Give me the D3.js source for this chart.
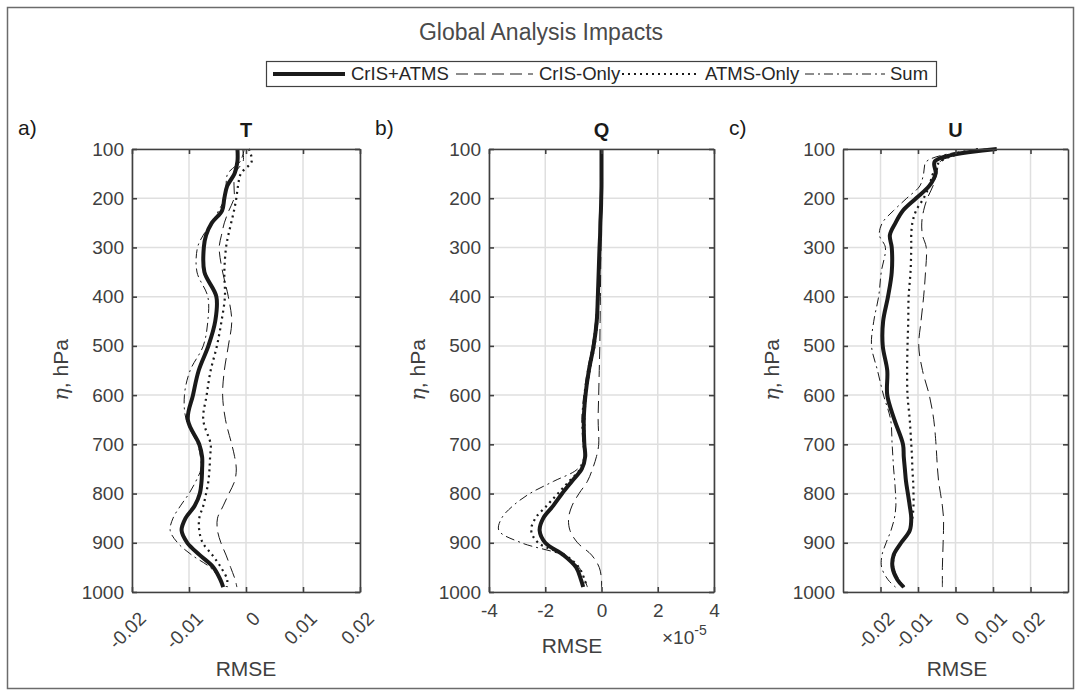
<!DOCTYPE html>
<html>
<head>
<meta charset="utf-8">
<script src="https://cdn.jsdelivr.net/npm/d3@7"></script>
<style>
  body { margin: 0; background: #fff; }
  svg { display: block; font-family: "Liberation Sans", Arial, Helvetica, sans-serif; }
</style>
</head>
<body>
<svg id="fig" width="1081" height="693"></svg>
<script>
// pressure levels (hPa) shared by every profile
var levels = [100, 125, 150, 175, 200, 225, 250, 275, 300, 350, 400, 450, 500, 550, 600, 650,
              700, 725, 750, 775, 800, 825, 850, 875, 900, 925, 950, 975, 990];

var seriesNames = ["CrIS+ATMS", "CrIS-Only", "ATMS-Only", "Sum"];

// a) T
var tCombined = [-0.0015, -0.0015, -0.0020, -0.0033, -0.0038, -0.0042, -0.0060, -0.0070, -0.0074, -0.0073, -0.0052, -0.0054, -0.0066, -0.0083, -0.0093, -0.0102,
                 -0.0082, -0.0077, -0.0077, -0.0078, -0.0081, -0.0090, -0.0106, -0.0113, -0.0103, -0.0081, -0.0057, -0.0045, -0.0040];
var tCris     = [-0.0006, -0.0005, -0.0020, -0.0021, -0.0021, -0.0030, -0.0038, -0.0043, -0.0047, -0.0041, -0.0031, -0.0025, -0.0031, -0.0038, -0.0041, -0.0036,
                 -0.0025, -0.0020, -0.0017, -0.0020, -0.0030, -0.0040, -0.0050, -0.0050, -0.0044, -0.0035, -0.0027, -0.0019, -0.0016];
var tAtms     = [0.0005, 0.0010, -0.0009, -0.0014, -0.0017, -0.0021, -0.0026, -0.0031, -0.0035, -0.0038, -0.0037, -0.0043, -0.0051, -0.0062, -0.0069, -0.0075,
                 -0.0062, -0.0063, -0.0064, -0.0066, -0.0070, -0.0075, -0.0082, -0.0082, -0.0076, -0.0059, -0.0044, -0.0033, -0.0034];
var tSum      = [-0.0003, -0.0010, -0.0032, -0.0035, -0.0037, -0.0048, -0.0060, -0.0075, -0.0085, -0.0086, -0.0067, -0.0067, -0.0075, -0.0098, -0.0108, -0.0105,
                 -0.0085, -0.0080, -0.0079, -0.0088, -0.0100, -0.0115, -0.0128, -0.0133, -0.0120, -0.0095, -0.0063, -0.0045, -0.0040];

// b) Q  (x 1e-5)
var qCombined = [0.0, 0.0, 0.0, 0.0, -0.01, -0.02, -0.04, -0.05, -0.07, -0.10, -0.13, -0.17, -0.28, -0.45, -0.57, -0.63,
                 -0.61, -0.58, -0.70, -1.05, -1.40, -1.72, -2.07, -2.20, -2.00, -1.35, -0.90, -0.73, -0.65];
var qCris     = [0.0, 0.0, 0.0, 0.0, 0.0, -0.01, -0.01, -0.02, -0.02, -0.03, -0.04, -0.05, -0.06, -0.08, -0.10, -0.12,
                 -0.10, -0.18, -0.32, -0.50, -0.80, -1.05, -1.17, -1.12, -0.85, -0.35, -0.08, 0.0, 0.0];
var qAtms     = [0.0, 0.0, 0.0, 0.0, -0.01, -0.02, -0.03, -0.04, -0.06, -0.09, -0.12, -0.15, -0.25, -0.42, -0.55, -0.61,
                 -0.60, -0.57, -0.75, -1.15, -1.55, -1.95, -2.35, -2.50, -2.25, -1.30, -0.80, -0.60, -0.52];
var qSum      = [0.0, 0.0, 0.0, 0.0, -0.01, -0.03, -0.05, -0.07, -0.09, -0.12, -0.16, -0.21, -0.33, -0.50, -0.63, -0.70,
                 -0.66, -0.62, -0.85, -1.70, -2.55, -3.15, -3.55, -3.65, -2.85, -1.40, -0.80, -0.60, -0.50];

// c) U
var uCombined = [0.0110, -0.0055, -0.0053, -0.0070, -0.0105, -0.0140, -0.0160, -0.0175, -0.0170, -0.0170, -0.0180, -0.0193, -0.0194, -0.0182, -0.0182, -0.0163,
                 -0.0140, -0.0138, -0.0135, -0.0132, -0.0127, -0.0122, -0.0118, -0.0122, -0.0145, -0.0165, -0.0168, -0.0155, -0.0138];
var uCris     = [0.0080, -0.0040, -0.0050, -0.0060, -0.0075, -0.0085, -0.0090, -0.0088, -0.0078, -0.0080, -0.0085, -0.0092, -0.0098, -0.0088, -0.0070, -0.0058,
                 -0.0052, -0.0050, -0.0048, -0.0045, -0.0040, -0.0035, -0.0032, -0.0032, -0.0033, -0.0034, -0.0035, -0.0035, -0.0035];
var uAtms     = [0.0060, -0.0040, -0.0060, -0.0070, -0.0085, -0.0105, -0.0115, -0.0118, -0.0118, -0.0120, -0.0125, -0.0126, -0.0128, -0.0129, -0.0128, -0.0122,
                 -0.0118, -0.0116, -0.0115, -0.0113, -0.0112, -0.0112, -0.0115, -0.0122, -0.0145, -0.0163, -0.0166, -0.0153, -0.0136];
var uSum      = [0.0060, -0.0077, -0.0085, -0.0095, -0.0130, -0.0165, -0.0195, -0.0203, -0.0187, -0.0198, -0.0205, -0.0218, -0.0224, -0.0208, -0.0192, -0.0173,
                 -0.0169, -0.0167, -0.0165, -0.0162, -0.0160, -0.0159, -0.0163, -0.0172, -0.0185, -0.0196, -0.0197, -0.0180, -0.0160];

var yTicks = [100, 200, 300, 400, 500, 600, 700, 800, 900, 1000];
var xTicksT = [-0.02, -0.01, 0, 0.01, 0.02];
var xTicksQ = [-4, -2, 0, 2, 4];
var xTicksU = [-0.02, -0.01, 0, 0.01, 0.02];

var axisColor = "#404040";
var lineColor = "#1a1a1a";

// line styles per series, same order as seriesNames
var styles = [
  {width: 4, dash: null},
  {width: 1, dash: "12,6"},
  {width: 2.2, dash: "2,4"},
  {width: 1, dash: "9,4,2,4"}
];

var svg = d3.select("#fig");

// outer frame
svg.append("rect")
   .attr("x", 7.5).attr("y", 7.5)
   .attr("width", 1066).attr("height", 681)
   .attr("fill", "none")
   .attr("stroke", "#6b6b6b")
   .attr("stroke-width", 1.5);

// figure title
svg.append("text")
   .attr("x", 541).attr("y", 40)
   .attr("text-anchor", "middle")
   .attr("font-size", 23)
   .attr("fill", "#4a4a4a")
   .text("Global Analysis Impacts");

var yScale = d3.scaleLinear().domain([100, 1000]).range([149, 592]);

function fmtTick(d) { return d === 0 ? "0" : String(d); }

function drawPanel(p) {
  var x = d3.scaleLinear().domain(p.domain).range(p.range);
  var g = svg.append("g");
  var top = yScale.range()[0], bottom = yScale.range()[1];

  // grid
  g.selectAll(".vgrid").data(p.xTicks).enter().append("line")
   .attr("x1", function(d) {return x(d);}).attr("x2", function(d) {return x(d);})
   .attr("y1", top).attr("y2", bottom)
   .attr("stroke", "#dfdfdf").attr("stroke-width", 1.5);
  g.selectAll(".hgrid").data(yTicks).enter().append("line")
   .attr("x1", p.range[0]).attr("x2", p.range[1])
   .attr("y1", function(d) {return yScale(d);}).attr("y2", function(d) {return yScale(d);})
   .attr("stroke", "#dfdfdf").attr("stroke-width", 1.5);

  // profiles (thick one last so it sits on top)
  var line = d3.line()
               .x(function(d) {return x(d[1]);})
               .y(function(d) {return yScale(d[0]);})
               .curve(d3.curveCatmullRom.alpha(0.5));
  [1, 2, 3, 0].forEach(function(i) {
    var pts = levels.map(function(lv, k) {return [lv, p.series[i][k]];});
    g.append("path")
     .datum(pts)
     .attr("d", line)
     .attr("fill", "none")
     .attr("stroke", lineColor)
     .attr("stroke-width", styles[i].width)
     .attr("stroke-dasharray", styles[i].dash)
     .attr("stroke-linejoin", "round");
  });

  // axes: labelled left/bottom, bare right/top, ticks pointing inwards
  g.append("g")
    .attr("transform", "translate(" + p.range[0] + ",0)")
    .call(d3.axisLeft(yScale).tickValues(yTicks).tickFormat(d3.format("d"))
            .tickSize(-5).tickSizeOuter(0).tickPadding(8));
  var bot = g.append("g")
    .attr("transform", "translate(0," + bottom + ")")
    .call(d3.axisBottom(x).tickValues(p.xTicks).tickFormat(fmtTick)
            .tickSize(-5).tickSizeOuter(0).tickPadding(12));
  g.append("g")
    .attr("transform", "translate(" + p.range[1] + ",0)")
    .call(d3.axisRight(yScale).tickValues(yTicks).tickSize(-5).tickSizeOuter(0).tickFormat(""));
  g.append("g")
    .attr("transform", "translate(0," + top + ")")
    .call(d3.axisTop(x).tickValues(p.xTicks).tickSize(-5).tickSizeOuter(0).tickFormat(""));

  g.selectAll(".domain, .tick line")
   .attr("stroke", axisColor).attr("stroke-width", 1.6);
  g.selectAll(".tick text")
   .attr("fill", axisColor).attr("font-size", 19)
   .attr("font-family", "Liberation Sans, Arial, sans-serif");

  if (p.rotate) {
    bot.selectAll(".tick text")
       .attr("text-anchor", "end")
       .attr("y", 0).attr("dy", "0.35em")
       .attr("transform", "translate(10,23) rotate(-45)");
  }

  // panel title and letter
  g.append("text")
   .attr("x", (p.range[0] + p.range[1]) / 2).attr("y", 137)
   .attr("text-anchor", "middle")
   .attr("font-size", 20).attr("font-weight", "bold")
   .attr("fill", "#1a1a1a")
   .text(p.title);
  g.append("text")
   .attr("x", p.range[0] - 114).attr("y", 135)
   .attr("font-size", 21)
   .attr("fill", "#1a1a1a")
   .text(p.letter);

  // y label
  var yl = g.append("text")
    .attr("transform", "translate(" + (p.range[0] - 64) + "," + 370 + ") rotate(-90)")
    .attr("text-anchor", "middle")
    .attr("font-size", 21)
    .attr("fill", axisColor);
  yl.append("tspan").attr("font-style", "italic").attr("font-family", "DejaVu Serif, serif").text("\u03b7");
  yl.append("tspan").text(", hPa");

  // x label
  g.append("text")
   .attr("x", p.xLabelX).attr("y", p.xLabelY)
   .attr("text-anchor", "middle")
   .attr("font-size", 21)
   .attr("fill", axisColor)
   .text("RMSE");

  if (p.exponent) {
    var ex = g.append("text")
      .attr("x", p.range[1] - 52).attr("y", 644)
      .attr("font-size", 19)
      .attr("fill", axisColor);
    ex.append("tspan").text("\u00d710");
    ex.append("tspan").attr("font-size", 14).attr("dy", -9).text("-5");
  }
}

drawPanel({domain: [-0.02, 0.02], range: [132, 360], xTicks: xTicksT, rotate: true,
           series: [tCombined, tCris, tAtms, tSum], title: "T", letter: "a)",
           xLabelX: 246, xLabelY: 676});
drawPanel({domain: [-4, 4], range: [489, 714], xTicks: xTicksQ, rotate: false, exponent: true,
           series: [qCombined, qCris, qAtms, qSum], title: "Q", letter: "b)",
           xLabelX: 572, xLabelY: 653});
drawPanel({domain: [-0.03, 0.03], range: [843, 1068], xTicks: xTicksU, rotate: true,
           series: [uCombined, uCris, uAtms, uSum], title: "U", letter: "c)",
           xLabelX: 957, xLabelY: 676});

// legend
var legend = svg.append("g");
legend.append("rect")
      .attr("x", 266.5).attr("y", 61.5)
      .attr("width", 670).attr("height", 25)
      .attr("fill", "#fff")
      .attr("stroke", axisColor).attr("stroke-width", 1.2);
var legendPos = [{x0: 273, x1: 345, tx: 351}, {x0: 456, x1: 533, tx: 539},
                 {x0: 622, x1: 700, tx: 705}, {x0: 805, x1: 885, tx: 890}];
seriesNames.forEach(function(name, i) {
  var lp = legendPos[i];
  legend.append("line")
        .attr("x1", lp.x0).attr("x2", lp.x1)
        .attr("y1", 74).attr("y2", 74)
        .attr("stroke", lineColor)
        .attr("stroke-width", styles[i].width)
        .attr("stroke-dasharray", styles[i].dash);
  legend.append("text")
        .attr("x", lp.tx).attr("y", 74).attr("dy", "0.35em")
        .attr("font-size", 18.5)
        .attr("fill", "#262626")
        .text(name);
});
</script>
</body>
</html>
